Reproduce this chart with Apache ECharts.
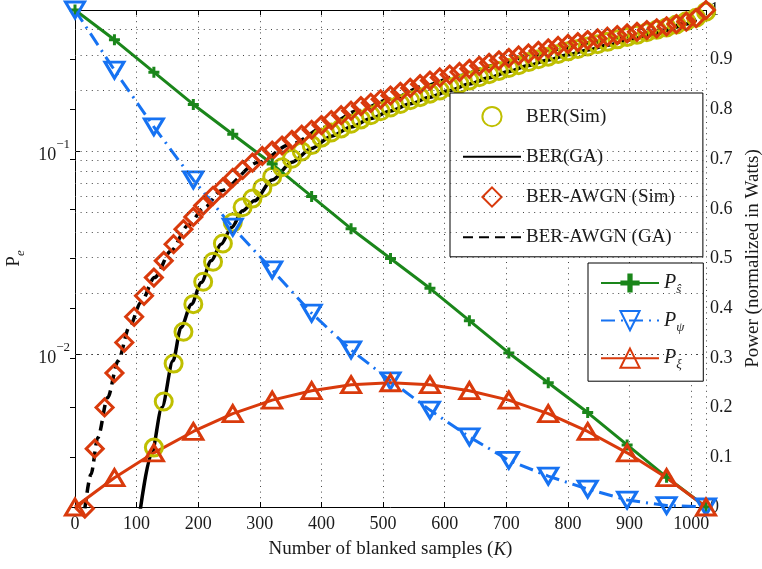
<!DOCTYPE html>
<html><head><meta charset="utf-8">
<script src="https://cdn.jsdelivr.net/npm/echarts@6/dist/echarts.min.js"></script>
<style>html,body{margin:0;padding:0;background:#fff}#c{width:762px;height:569px}</style>
</head><body><div id="c"></div>
<script>
const FONT = 'Liberation Serif';

// ---- BER (Sim): circles ----
const berSimK = [128,144,160,176,192,208,224,240,256,272,288,304,320,336,352,368,384,400,416,432,448,464,480,496,512,528,544,560,576,592,608,624,640,656,672,688,704,720,736,752,768,784,800,816,832,848,864,880,896,912,928,944,960,976,992,1008,1024];
const berSimVal = [0.00344,0.00581,0.00895,0.01285,0.0176,0.0227,0.0285,0.0351,0.0445,0.053,0.0585,0.066,0.075,0.0835,0.092,0.1,0.1075,0.117,0.124,0.13,0.137,0.144,0.151,0.158,0.165,0.1715,0.179,0.1855,0.193,0.2,0.208,0.216,0.224,0.2325,0.241,0.25,0.2585,0.267,0.2765,0.2855,0.294,0.3035,0.3125,0.321,0.33,0.339,0.348,0.358,0.3675,0.377,0.388,0.399,0.41,0.424,0.44,0.458,0.49];

// ---- BER (GA): solid black ----
const berGaK = [106,124,141,159,172,189,205,221,237,254,272,291,320,352,384,416,448,480,512,544,576,608,640,672,704,736,768,800,832,864,896,928,960,992,1008];
const berGaVal = [0.0017,0.00319,0.00543,0.00923,0.0135,0.0176,0.0225,0.0288,0.0348,0.0421,0.0509,0.057,0.0722,0.0885,0.1035,0.119,0.132,0.1455,0.1585,0.172,0.1855,0.2,0.2155,0.2315,0.2485,0.266,0.283,0.3005,0.3175,0.335,0.3535,0.373,0.396,0.426,0.445];

// ---- BER-AWGN (Sim): diamonds ----
const awgnSimK = [16,32,48,64,80,96,112,128,144,160,176,192,208,224,240,256,272,288,304,320,336,352,368,384,400,416,432,448,464,480,496,512,528,544,560,576,592,608,624,640,656,672,688,704,720,736,752,768,784,800,816,832,848,864,880,896,912,928,944,960,976,992,1008,1024];
const awgnSimVal = [0.00172,0.0034,0.00543,0.00803,0.01137,0.01524,0.01935,0.0238,0.0288,0.0348,0.0413,0.0475,0.054,0.0604,0.0664,0.074,0.081,0.088,0.095,0.101,0.107,0.114,0.121,0.128,0.135,0.143,0.151,0.159,0.1675,0.174,0.181,0.189,0.197,0.206,0.215,0.224,0.232,0.24,0.247,0.256,0.265,0.274,0.282,0.29,0.298,0.305,0.314,0.323,0.332,0.34,0.347,0.355,0.362,0.369,0.376,0.383,0.39,0.398,0.406,0.415,0.426,0.438,0.456,0.5];

// ---- BER-AWGN (GA): dashed black ----
const awgnGaK = [16,26,37,53,70,88,107,129,156,183,210,237,297,351,405,459,513,567,621,678,732,786,840,894,948,997,1008];
const awgnGaVal = [0.00172,0.00254,0.00385,0.00608,0.00923,0.0135,0.01795,0.0238,0.0323,0.043,0.0528,0.064,0.0882,0.1088,0.1315,0.159,0.1815,0.211,0.236,0.265,0.292,0.321,0.346,0.369,0.395,0.435,0.45];

// ---- Power curves (right axis) ----
const powK = [0,64,128,192,256,320,384,448,512,576,640,704,768,832,896,960,1024];
const psVal = [1,0.94,0.875,0.81,0.75,0.69,0.625,0.56,0.5,0.44,0.375,0.31,0.25,0.19,0.125,0.06,0];
const ppsiVal = [1,0.879,0.765,0.658,0.563,0.477,0.39,0.316,0.254,0.195,0.141,0.094,0.062,0.036,0.014,0.003,0];
const pxiVal = [0,0.059,0.109,0.152,0.188,0.215,0.234,0.246,0.25,0.246,0.234,0.215,0.188,0.152,0.109,0.059,0];

// ---- ticks / grid ----
const xTickLabels = [0,100,200,300,400,500,600,700,800,900,1000];
const logTickLabels = [0.01, 0.1];
const logGridValues = [0.002,0.003,0.004,0.005,0.006,0.007,0.008,0.009,0.01,0.02,0.03,0.04,0.05,0.06,0.07,0.08,0.09,0.1,0.2,0.3,0.4];

const names = ['BER(Sim)','BER(GA)','BER-AWGN (Sim)','BER-AWGN (GA)','Pŝ','Pψ','Pξ'];
const C_Y = '#bfbf00', C_R = '#d93a0c', C_G = '#1a861a', C_B = '#1672f2';

function pairs(k, v) { return k.map((x, i) => [x, v[i]]); }
const gridStyle = {color: '#444', width: 1, type: [1, 4.6]};
const txt = '#1a1a1a';
const PLUS = 'path://M4,0H7V4H11V7H7V11H4V7H0V4H4Z';

const chart = echarts.init(document.getElementById('c'), null, {renderer: 'canvas'});
chart.setOption({
  animation: false,
  backgroundColor: '#fff',
  grid: {left: 75, right: 56, top: 10, bottom: 62, containLabel: false, outerBoundsMode: 'none'},
  xAxis: [{
    type: 'value', min: 0, max: 1024, interval: 100, position: 'bottom',
    name: 'Number of blanked samples ({k|K})', nameLocation: 'middle', nameGap: 33,
    nameTextStyle: {fontFamily: FONT, fontSize: 19, color: txt,
      rich: {k: {fontFamily: FONT, fontSize: 19, fontStyle: 'italic', color: txt}}},
    axisLine: {show: true, lineStyle: {color: '#000', width: 1}},
    axisTick: {show: true, inside: true, length: 5, lineStyle: {color: '#000'}},
    axisLabel: {fontFamily: FONT, fontSize: 18, color: txt, margin: 8,
      formatter: v => xTickLabels.indexOf(v) >= 0 ? String(v) : ''},
    splitLine: {show: true, lineStyle: gridStyle}
  }, {
    type: 'value', min: 0, max: 1024, interval: 100, position: 'top',
    axisLine: {show: true, lineStyle: {color: '#000', width: 1}},
    axisTick: {show: true, inside: true, length: 5, lineStyle: {color: '#000'}},
    axisLabel: {show: false}, splitLine: {show: false}
  }],
  yAxis: [{
    type: 'log', logBase: 10, min: 0.00175, max: 0.5, position: 'left',
    name: '{p|P}{e|e}', nameLocation: 'middle', nameGap: 46, nameRotate: 90,
    nameTextStyle: {fontFamily: FONT, color: txt, rich: {
      p: {fontFamily: FONT, fontSize: 19, color: txt, lineHeight: 26},
      e: {fontFamily: FONT, fontSize: 13, fontStyle: 'italic', color: txt, lineHeight: 13, verticalAlign: 'bottom'}}},
    axisLine: {show: true, lineStyle: {color: '#000', width: 1}},
    axisTick: {show: true, inside: true, length: 5, lineStyle: {color: '#000'}},
    axisLabel: {margin: 5, fontFamily: FONT, color: txt,
      formatter: v => {
        const hit = logTickLabels.find(t => Math.abs(t - v) / t < 1e-6);
        if (!hit) return '';
        const e = Math.round(Math.log10(hit));
        return '{b|10}{s|' + (e < 0 ? '−' : '') + Math.abs(e) + '}';
      },
      rich: {
        b: {fontFamily: FONT, fontSize: 18, color: txt, lineHeight: 26, verticalAlign: 'bottom'},
        s: {fontFamily: FONT, fontSize: 13, color: txt, lineHeight: 13, verticalAlign: 'top'}
      }},
    splitLine: {show: false}
  }, {
    type: 'value', min: 0, max: 1, interval: 0.1, position: 'right',
    name: 'Power (normalized in Watts)', nameLocation: 'middle', nameGap: 36, nameRotate: 90,
    nameTextStyle: {fontFamily: FONT, fontSize: 19, color: txt},
    axisLine: {show: true, lineStyle: {color: '#000', width: 1}},
    axisTick: {show: true, inside: true, length: 5, lineStyle: {color: '#000'}},
    axisLabel: {margin: 4, fontFamily: FONT, fontSize: 18, color: txt,
      formatter: v => String(Math.round(v * 10) / 10)},
    splitLine: {show: false}
  }],
  legend: [{
    data: [
      {name: names[0], lineStyle: {opacity: 0}},
      {name: names[1], itemStyle: {opacity: 0}},
      {name: names[2], lineStyle: {opacity: 0}},
      {name: names[3], itemStyle: {opacity: 0}}
    ],
    orient: 'vertical', left: 450, top: 93, itemWidth: 58, itemHeight: 24, itemGap: 20,
    padding: [13, 28, 10, 12], backgroundColor: '#fff', borderColor: '#000', borderWidth: 1,
    selectedMode: false,
    textStyle: {fontFamily: FONT, fontSize: 19, color: txt}
  }, {
    data: [names[4], names[5], names[6]],
    orient: 'vertical', left: 588, top: 263, itemWidth: 58, itemHeight: 24, itemGap: 14,
    padding: [10, 19, 10, 12], backgroundColor: '#fff', borderColor: '#000', borderWidth: 1,
    selectedMode: false,
    formatter: n => '{p|P}{s|' + n.slice(1) + '}',
    textStyle: {fontFamily: FONT, fontSize: 19, color: txt, rich: {
      p: {fontFamily: FONT, fontSize: 20, fontStyle: 'italic', color: txt, lineHeight: 26},
      s: {fontFamily: FONT, fontSize: 13, fontStyle: 'italic', color: txt, lineHeight: 13, verticalAlign: 'bottom'}}}
  }],
  series: [
    {
      type: 'line', name: 'grid', xAxisIndex: 0, yAxisIndex: 0, data: [[0, 0.01]],
      symbol: 'none', lineStyle: {opacity: 0}, silent: true,
      markLine: {silent: true, symbol: 'none', label: {show: false}, lineStyle: gridStyle,
        emphasis: {disabled: true}, animation: false,
        data: logGridValues.map(v => ({yAxis: v}))}
    },
    {
      type: 'line', name: names[0], xAxisIndex: 0, yAxisIndex: 0, data: pairs(berSimK, berSimVal),
      symbol: 'circle', symbolSize: 17, showAllSymbol: true, clip: false,
      lineStyle: {opacity: 0, width: 0, color: C_Y},
      itemStyle: {color: 'rgba(0,0,0,0)', borderColor: C_Y, borderWidth: 3}
    },
    {
      type: 'line', name: names[1], xAxisIndex: 0, yAxisIndex: 0, data: pairs(berGaK, berGaVal),
      symbol: 'none', smooth: 0.3, smoothMonotone: 'x',
      lineStyle: {color: '#000', width: 3.5}, itemStyle: {color: '#000'}
    },
    {
      type: 'line', name: names[2], xAxisIndex: 0, yAxisIndex: 0, data: pairs(awgnSimK, awgnSimVal),
      symbol: 'diamond', symbolSize: 17, showAllSymbol: true, clip: false,
      lineStyle: {opacity: 0, width: 0, color: C_R},
      itemStyle: {color: 'rgba(0,0,0,0)', borderColor: C_R, borderWidth: 3}
    },
    {
      type: 'line', name: names[3], xAxisIndex: 0, yAxisIndex: 0, data: pairs(awgnGaK, awgnGaVal),
      symbol: 'none', smooth: 0.3, smoothMonotone: 'x',
      lineStyle: {color: '#000', width: 3.5, type: [10, 6]}, itemStyle: {color: '#000'}
    },
    {
      type: 'line', name: names[4], xAxisIndex: 0, yAxisIndex: 1, data: pairs(powK, psVal),
      symbol: PLUS, symbolSize: 11, clip: false,
      lineStyle: {color: C_G, width: 3}, itemStyle: {color: C_G}
    },
    {
      type: 'line', name: names[5], xAxisIndex: 0, yAxisIndex: 1, data: pairs(powK, ppsiVal),
      symbol: 'triangle', symbolRotate: 180, symbolSize: [19, 16], clip: false,
      lineStyle: {color: C_B, width: 3, type: [14, 6, 2, 6]},
      itemStyle: {color: 'rgba(0,0,0,0)', borderColor: C_B, borderWidth: 3}
    },
    {
      type: 'line', name: names[6], xAxisIndex: 0, yAxisIndex: 1, data: pairs(powK, pxiVal),
      symbol: 'triangle', symbolSize: [19, 16], clip: false,
      lineStyle: {color: C_R, width: 3},
      itemStyle: {color: 'rgba(0,0,0,0)', borderColor: C_R, borderWidth: 3}
    }
  ]
});
</script>
</body></html>
